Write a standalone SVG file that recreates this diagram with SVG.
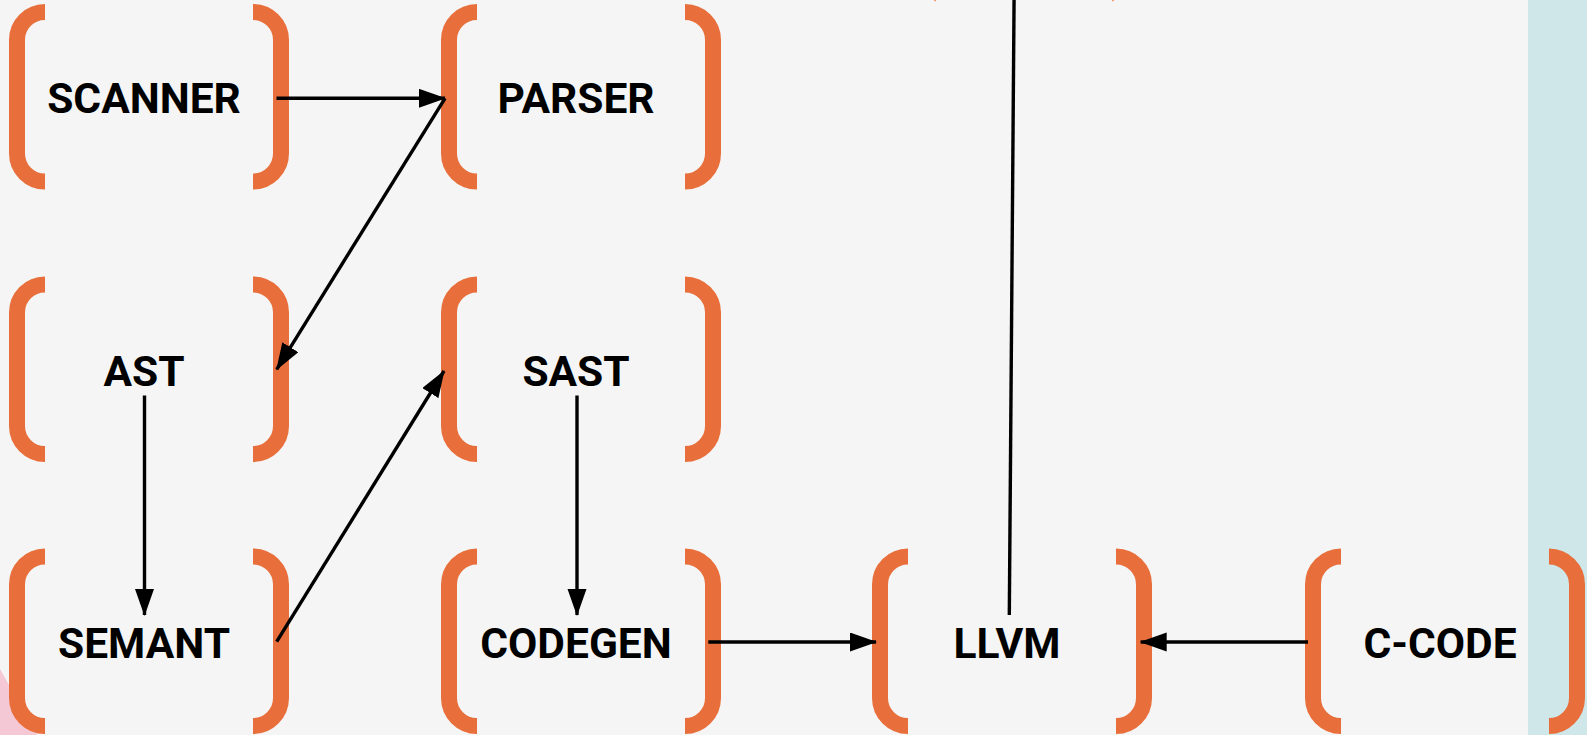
<svg xmlns="http://www.w3.org/2000/svg" width="1587" height="735" viewBox="0 0 1587 735">
  <style>
    .br { fill: none; stroke: #E86F3B; stroke-width: 16; }
    .lbl { font-family: Roboto, "Liberation Sans", sans-serif; font-weight: 700; font-size: 42.5px; fill: #000; text-anchor: middle; }
    .cn { stroke: #000; stroke-width: 3.4; fill: none; }
  </style>
  <defs>
    <marker id="ah" markerUnits="userSpaceOnUse" markerWidth="28" markerHeight="20" refX="26" refY="9.5" orient="auto">
      <path d="M0,0 L27,9.5 L0,19 Z" fill="#000"/>
    </marker>
    <g id="brk">
      <path class="br" d="M28,0 A28,28 0 0 0 0,28 V141.5 A28,28 0 0 0 28,169.5"/>
      <path class="br" d="M236,0 A28,28 0 0 1 264,28 V141.5 A28,28 0 0 1 236,169.5"/>
    </g>
  </defs>
  <rect width="1587" height="735" fill="#F5F5F5"/>
  <rect x="1528" y="0" width="59" height="735" fill="#CFE7E8"/>
  <polygon points="0,669 37,735 0,735" fill="#F4C8D4"/>
  <rect x="934" y="0" width="2" height="1.2" fill="#F29A70"/>
  <rect x="1112" y="0" width="2" height="1.2" fill="#F29A70"/>

  <g id="scanner" transform="translate(17,12)">
    <use href="#brk"/>
    <text class="lbl" x="127" y="101">SCANNER</text>
  </g>
  <g id="parser" transform="translate(449,12)">
    <use href="#brk"/>
    <text class="lbl" x="127" y="101">PARSER</text>
  </g>
  <g id="ast" transform="translate(17,284.5)">
    <use href="#brk"/>
    <text class="lbl" x="127" y="101">AST</text>
  </g>
  <g id="sast" transform="translate(449,284.5)">
    <use href="#brk"/>
    <text class="lbl" x="127" y="101">SAST</text>
  </g>
  <g id="semant" transform="translate(17,556.5)">
    <use href="#brk"/>
    <text class="lbl" x="127" y="101">SEMANT</text>
  </g>
  <g id="codegen" transform="translate(449,556.5)">
    <use href="#brk"/>
    <text class="lbl" x="127" y="101">CODEGEN</text>
  </g>
  <g id="llvm" transform="translate(880,556.5)">
    <use href="#brk"/>
    <text class="lbl" x="127" y="101">LLVM</text>
  </g>
  <g id="ccode" transform="translate(1313,556.5)">
    <use href="#brk"/>
    <text class="lbl" x="127" y="101">C-CODE</text>
  </g>

  <g id="connectors">
    <line class="cn" x1="276.5" y1="98.3" x2="445" y2="98.3" marker-end="url(#ah)"/>
    <line class="cn" x1="445" y1="98.3" x2="276.7" y2="369.3" marker-end="url(#ah)"/>
    <line class="cn" x1="276.7" y1="641.7" x2="444" y2="371" marker-end="url(#ah)"/>
    <line class="cn" x1="144.5" y1="395.5" x2="144.5" y2="615" marker-end="url(#ah)"/>
    <line class="cn" x1="577" y1="395.5" x2="577" y2="615" marker-end="url(#ah)"/>
    <line class="cn" x1="708.3" y1="642" x2="876" y2="642" marker-end="url(#ah)"/>
    <line class="cn" x1="1308" y1="642" x2="1140.7" y2="642" marker-end="url(#ah)"/>
    <line class="cn" x1="1009.3" y1="615" x2="1014.1" y2="-5"/>
  </g>
</svg>
